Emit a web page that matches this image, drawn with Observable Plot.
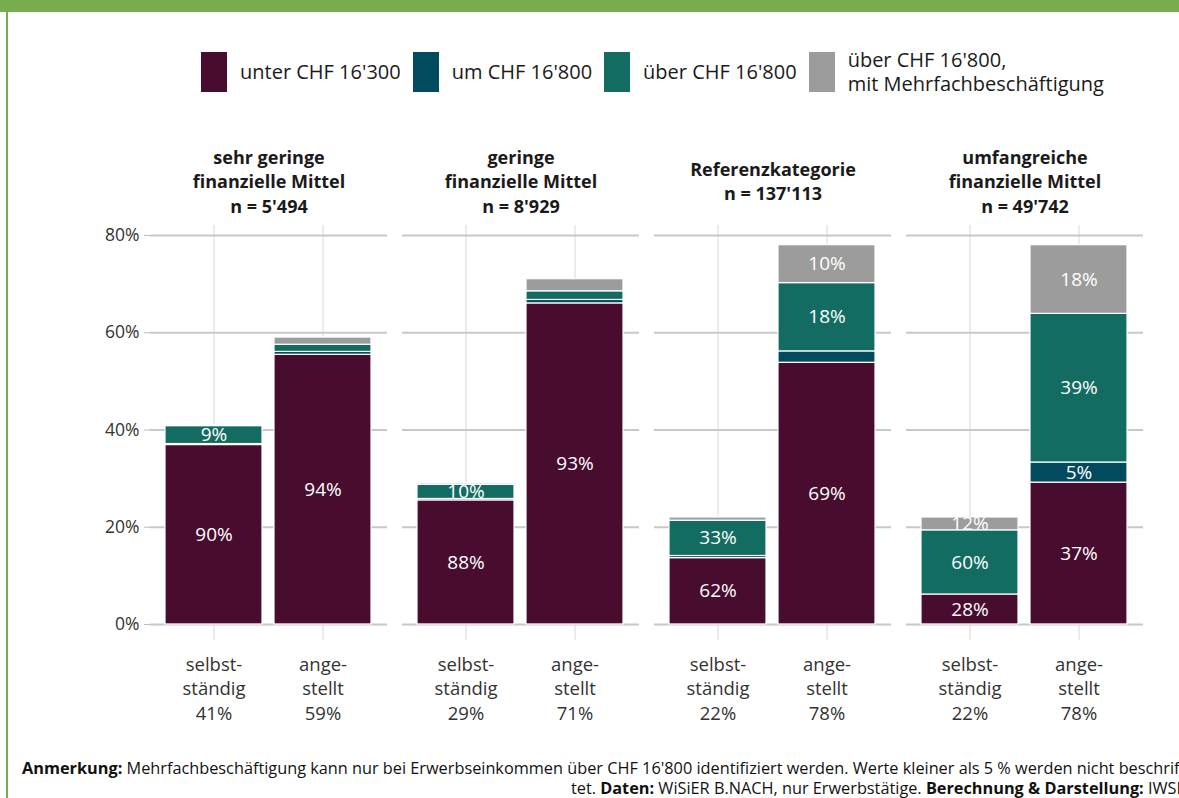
<!DOCTYPE html>
<html>
<head>
<meta charset="utf-8">
<script src="https://cdn.jsdelivr.net/npm/d3@7"></script>
<script src="https://cdn.jsdelivr.net/npm/@observablehq/plot@0.6"></script>
<style>
  html, body { margin: 0; padding: 0; background: #fff; }
  body { width: 1179px; height: 798px; position: relative; overflow: hidden; font-family: "Open Sans", sans-serif; }
  #topbar { position: absolute; left: 0; top: 0; width: 1179px; height: 12px; background: #77ac4f; }
  #leftbar { position: absolute; left: 6px; top: 0; width: 2px; height: 798px; background: #77ac4f; }
  #legend { position: absolute; left: 201px; top: 48px; height: 48px; display: flex; align-items: center; font-size: 20px; color: #1a1a1a; }
  .item { display: flex; align-items: center; margin-right: 12px; }
  .sw { width: 26px; height: 40px; margin-right: 13px; }
  .lt { line-height: 24px; }
  #chart { position: absolute; left: 0; top: 130px; }
  .cap { position: absolute; font-size: 16.3px; color: #111; white-space: nowrap; }
  .cap b { font-weight: 700; }
</style>
</head>
<body>
<div id="topbar"></div>
<div id="leftbar"></div>
<div id="legend"></div>
<div id="chart"></div>
<div class="cap" style="left:22px; top:757px;"><b>Anmerkung:</b> Mehrfachbeschäftigung kann nur bei Erwerbseinkommen über CHF 16'800 identifiziert werden. Werte kleiner als 5 % werden nicht beschrif</div>
<div class="cap" style="right:-8px; top:777px;">tet. <b>Daten:</b> WiSiER B.NACH, nur Erwerbstätige. <b>Berechnung &amp; Darstellung:</b> IWSB</div>
<script>
// ---- data ----
const groups = ["sehr gering", "gering", "Referenz", "umfangreich"];
const groupTitles = [
  "sehr geringe\nfinanzielle Mittel\nn = 5'494",
  "geringe\nfinanzielle Mittel\nn = 8'929",
  "Referenzkategorie\nn = 137'113",
  "umfangreiche\nfinanzielle Mittel\nn = 49'742"
];
const types = ["selbstständig", "angestellt"];
const typeLabels = ["selbst-\nständig", "ange-\nstellt"];
// share of each employment type within each group (%)
const shares = [[41, 59], [29, 71], [22, 78], [22, 78]];
const categories = ["unter CHF 16'300", "um CHF 16'800", "über CHF 16'800", "über CHF 16'800,\nmit Mehrfachbeschäftigung"];
const colors = ["#470c2e", "#024a5e", "#136c61", "#9c9c9c"];
// within-bar percentages per category [group][type]
const pctUnter    = [[90, 94], [88, 93], [62, 69], [28, 37.4]];
const pctUm       = [[0.5, 1], [1, 1], [2, 3], [0, 5.3]];
const pctUeber    = [[9, 2.5], [10, 2.5], [33, 18], [60, 39.2]];
const pctMehrfach = [[0.5, 2.5], [1, 3.5], [3, 10], [12, 18.1]];
const yTicks = [0, 20, 40, 60, 80];

// ---- build table ----
const pctByCat = [pctUnter, pctUm, pctUeber, pctMehrfach];
const rows = [];
groups.forEach((g, gi) => {
  types.forEach((t, ti) => {
    categories.forEach((c, ci) => {
      const p = pctByCat[ci][gi][ti];
      rows.push({
        group: g, type: t, cat: c,
        value: shares[gi][ti] * p / 100,
        label: p >= 5 ? Math.round(p) + "%" : ""
      });
    });
  });
});
const bottom = [];
groups.forEach((g, gi) => types.forEach((t, ti) => bottom.push({group: g, type: t, label: typeLabels[ti] + "\n" + shares[gi][ti] + "%"})));

// ---- legend ----
const leg = document.getElementById("legend");
categories.forEach((c, i) => {
  const it = document.createElement("div"); it.className = "item";
  const sw = document.createElement("div"); sw.className = "sw"; sw.style.background = colors[i];
  const lt = document.createElement("div"); lt.className = "lt"; lt.innerText = c;
  it.appendChild(sw); it.appendChild(lt); leg.appendChild(it);
});

// ---- chart ----
const chart = Plot.plot({
  width: 1179, height: 600,
  marginLeft: 149, marginRight: 36, marginTop: 95, marginBottom: 90,
  style: {fontFamily: "Open Sans, sans-serif", fontSize: "18px", background: "transparent", overflow: "visible"},
  fx: {domain: groups, paddingInner: 0.06, paddingOuter: 0, axis: null},
  x: {domain: types, paddingInner: 0.11, paddingOuter: 0.142, axis: null},
  y: {domain: [-3.3, 82.05], axis: null},
  color: {domain: categories, range: colors},
  marks: [
    Plot.gridX({stroke: "#ebebeb", strokeOpacity: 1, strokeWidth: 2}),
    Plot.gridY(yTicks, {stroke: "#c8c8c8", strokeOpacity: 1, strokeWidth: 2}),
    Plot.barY(rows, {fx: "group", x: "type", y: "value", z: "cat", fill: "cat", stroke: "white", strokeWidth: 1.2}),
    Plot.text(rows, Plot.stackY({fx: "group", x: "type", y: "value", z: "cat", text: "label", fill: "white", fontSize: 19})),
    Plot.text(groups, {fx: d => d, text: (d, i) => groupTitles[i], frameAnchor: "top", lineAnchor: "middle", dy: -45, fontWeight: "bold", fontSize: 18, lineHeight: 1.35, fill: "#1a1a1a"}),
    Plot.text(bottom, {fx: "group", x: "type", text: "label", frameAnchor: "bottom", lineAnchor: "top", dy: 13, fontSize: 18.5, lineHeight: 1.32, fill: "#333"}),
    Plot.axisY({ticks: yTicks, tickFormat: d => d + "%", label: null, tickSize: 6, tickPadding: 5, stroke: "#bbb", fill: "#333", fontSize: 17.5})
  ]
});
document.getElementById("chart").appendChild(chart);
</script>
</body>
</html>
